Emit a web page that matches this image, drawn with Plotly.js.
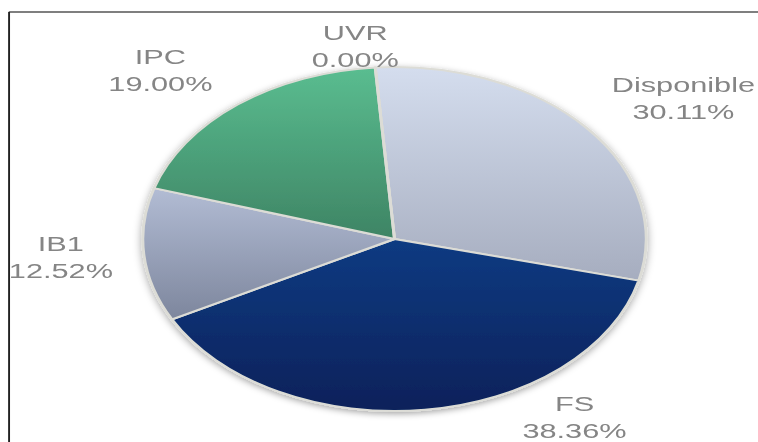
<!DOCTYPE html>
<html>
<head>
<meta charset="utf-8">
<script src="https://cdn.plot.ly/plotly-3.0.1.min.js"></script>
<style>
  html, body { margin: 0; padding: 0; background: #ffffff; overflow: hidden; }
  #wrap { width: 758px; height: 442px; overflow: hidden; position: relative; }
  #chart { width: 518px; height: 442px; transform: scaleX(1.4633); transform-origin: 0 0; }
</style>
</head>
<body>
<div id="wrap"><div id="chart"></div></div>
<script>
// ---- data ----
const labels = ["Disponible", "FS", "IB1", "IPC", "UVR"];
const values = [30.11, 38.36, 12.52, 19.00, 0.00];
const valueText = ["30.11%", "38.36%", "12.52%", "19.00%", "0.00%"];
const flatColors = ["#bcc5d8", "#0a2e6e", "#9aa3bb", "#4ca27a", "#c8d0e2"];
const gradTop = ["#d4ddee", "#0d3b82", "#b2bcd4", "#5abd90", "#d4ddee"];
const gradBottom = ["#a6adbf", "#07215a", "#7d869d", "#3e8464", "#a6adbf"];

// ---- layout helpers (stretched-page pixel positions of label centres) ----
const SX = 758 / 518;
const W = 518, H = 442;
const labelPos = {
  "Disponible": [684, 98],
  "FS": [574, 417],
  "IB1": [60, 257],
  "IPC": [160, 70],
  "UVR": [355, 46]
};

const annotations = labels.map((l, i) => ({
  xref: "paper", yref: "paper",
  x: (labelPos[l][0] / SX) / W,
  y: 1 - labelPos[l][1] / H,
  xanchor: "center", yanchor: "middle",
  text: l + "<br>" + valueText[i],
  showarrow: false,
  align: "center",
  font: { family: "Liberation Sans, Arial, sans-serif", size: 21, color: "#858585" }
}));

// pie geometry: circle centred at (269.6, 239) with radius 172 (unstretched px)
const cx = 269.6, cy = 239, r = 172;

const trace = {
  type: "pie",
  labels: labels,
  values: values,
  sort: false,
  direction: "clockwise",
  rotation: -4.4,
  textinfo: "none",
  textposition: "inside",
  hoverinfo: "none",
  marker: { colors: flatColors, line: { color: "#dcdcd6", width: 2 } },
  domain: { x: [(cx - r) / W, (cx + r) / W], y: [(H - cy - r) / H, (H - cy + r) / H] },
  showlegend: false
};

const layout = {
  width: W, height: H,
  margin: { l: 0, r: 0, t: 0, b: 0 },
  paper_bgcolor: "#ffffff",
  annotations: annotations,
  shapes: [
    { type: "line", xref: "paper", yref: "paper", x0: 6 / W, x1: 1.2, y0: 1 - 12 / H, y1: 1 - 12 / H,
      line: { color: "#555555", width: 1.6 } },
    { type: "line", xref: "paper", yref: "paper", x0: 6.2 / W, x1: 6.2 / W, y0: -0.1, y1: 1 - 12 / H,
      line: { color: "#222222", width: 1.3 } }
  ]
};

Plotly.newPlot("chart", [trace], layout, { staticPlot: true, displayModeBar: false }).then(function (gd) {
  const svg = gd.querySelector("svg.main-svg");
  const NS = "http://www.w3.org/2000/svg";
  let defs = svg.querySelector("defs");
  if (!defs) { defs = document.createElementNS(NS, "defs"); svg.insertBefore(defs, svg.firstChild); }
  labels.forEach((l, i) => {
    const g = document.createElementNS(NS, "linearGradient");
    g.setAttribute("id", "sliceGrad" + i);
    g.setAttribute("x1", "0"); g.setAttribute("y1", "0");
    g.setAttribute("x2", "0"); g.setAttribute("y2", "1");
    const s1 = document.createElementNS(NS, "stop");
    s1.setAttribute("offset", "0"); s1.setAttribute("stop-color", gradTop[i]);
    const s2 = document.createElementNS(NS, "stop");
    s2.setAttribute("offset", "1"); s2.setAttribute("stop-color", gradBottom[i]);
    g.appendChild(s1); g.appendChild(s2);
    defs.appendChild(g);
  });
  const f = document.createElementNS(NS, "filter");
  f.setAttribute("id", "pieShadow");
  f.setAttribute("x", "-10%"); f.setAttribute("y", "-10%");
  f.setAttribute("width", "120%"); f.setAttribute("height", "120%");
  const ds = document.createElementNS(NS, "feDropShadow");
  ds.setAttribute("dx", "0"); ds.setAttribute("dy", "2");
  ds.setAttribute("stdDeviation", "3"); ds.setAttribute("flood-color", "#000000");
  ds.setAttribute("flood-opacity", "0.35");
  f.appendChild(ds); defs.appendChild(f);

  const slices = gd.querySelectorAll(".pielayer .slice");
  slices.forEach(function (sl) {
    const d = sl.__data__;
    const idx = d && d.i !== undefined ? d.i : null;
    const p = sl.querySelector("path.surface");
    if (p && idx !== null) p.style.fill = "url(#sliceGrad" + idx + ")";
  });
  const trG = gd.querySelector(".pielayer .trace");
  if (trG) trG.setAttribute("filter", "url(#pieShadow)");
});
</script>
</body>
</html>
